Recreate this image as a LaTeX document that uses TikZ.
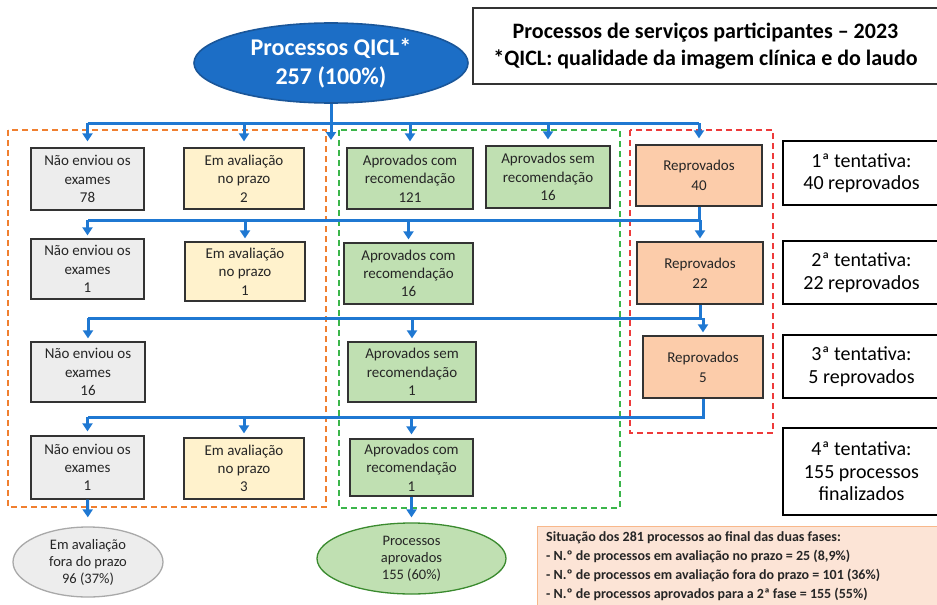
\documentclass[tikz,border=0pt]{standalone}
\usepackage{fontspec}
\setmainfont{Carlito}
\usetikzlibrary{arrows.meta,shapes.geometric}

\definecolor{flowblue}{HTML}{1F78D2}
\definecolor{topfill}{HTML}{1C6EC6}
\definecolor{topline}{HTML}{1A5699}
\definecolor{greyfill}{HTML}{EDEDED}
\definecolor{yelfill}{HTML}{FFF2CC}
\definecolor{grnfill}{HTML}{C0E0B2}
\definecolor{orgfill}{HTML}{FCCCAA}
\definecolor{boxline}{HTML}{333333}
\definecolor{dashorange}{HTML}{F07F2F}
\definecolor{dashgreen}{HTML}{3BB54A}
\definecolor{dashred}{HTML}{EE3B3B}
\definecolor{notefill}{HTML}{FCE4D6}
\definecolor{noteline}{HTML}{F8B88B}
\definecolor{foraline}{HTML}{A9A9A9}
\definecolor{aprovline}{HTML}{3A8A2E}
\definecolor{txt}{HTML}{262626}

\tikzset{
	box/.style={draw=boxline,line width=1.2pt,inner sep=0pt,align=center,text=txt,
		minimum height=61pt,font=\fontsize{15}{18.3}\selectfont},
	naobox/.style={box,fill=greyfill,minimum width=113pt},
	avalbox/.style={box,fill=yelfill,minimum width=120pt},
	aprbox/.style={box,fill=grnfill,minimum width=126pt},
	repbox/.style={box,fill=orgfill,minimum width=126pt,font=\fontsize{15}{20}\selectfont},
	tentbox/.style={draw=black,line width=1.6pt,inner sep=0pt,align=center,
		minimum width=157pt,minimum height=64pt,font=\fontsize{20}{22.5}\selectfont},
	group/.style={line width=1.3pt,dash pattern=on 6pt off 4pt},
	flow/.style={draw=flowblue,line width=3pt},
	arr/.style={flow,-{Triangle[length=8pt,width=10pt]},shorten >=4pt}
}

\begin{document}
\begin{tikzpicture}[x=1pt,y=-1pt]
	\useasboundingbox (0,0) rectangle (937,605);
	% dashed groups
	\draw[group,dashorange] (8,130) rectangle (326,507);
	\draw[group,dashgreen] (339,130) rectangle (620,508);
	\draw[group,dashred] (630,130) rectangle (773,433);
	% title
	\node[draw=boxline,line width=1.2pt,minimum width=465pt,minimum height=76pt,align=center,
		font=\bfseries\fontsize{22}{27}\selectfont] (title) at (705.5,46)
		{Processos de serviços participantes – 2023\\*QICL: qualidade da imagem clínica e do laudo};
	\node[ellipse,draw=topline,line width=1.6pt,fill=topfill,text=white,inner sep=0pt,
		minimum width=274pt,minimum height=80pt,align=center,
		font=\bfseries\fontsize{24}{29.5}\selectfont] (top) at (331,63)
		{Processos QICL*\\257 (100\%)};
	% 1a tentativa
	\node[naobox,minimum height=62pt] (nao1) at (87.5,179) {Não enviou os\\exames\\78};
	\node[avalbox] (aval1) at (244,178.5) {Em avaliação\\no prazo\\2};
	\node[aprbox] (apc1) at (410,178.5) {Aprovados com\\recomendação\\121};
	\node[aprbox,minimum width=124pt,minimum height=62pt] (aps1) at (548,177) {Aprovados sem\\recomendação\\16};
	\node[repbox] (rep1) at (699,175.5) {Reprovados\\40};
	\node[tentbox] (tent1) at (861.5,173) {1ª tentativa:\\40 reprovados};
	% 2a tentativa
	\node[naobox,minimum height=60pt] (nao2) at (87.5,269) {Não enviou os\\exames\\1};
	\node[avalbox,minimum height=59pt] (aval2) at (245,271.5) {Em avaliação\\no prazo\\1};
	\node[aprbox,minimum width=129pt] (apc2) at (408.5,273.5) {Aprovados com\\recomendação\\16};
	\node[repbox,minimum height=62pt] (rep2) at (700,273) {Reprovados\\22};
	\node[tentbox,minimum height=63pt] (tent2) at (861.5,272.5) {2ª tentativa:\\22 reprovados};
	% 3a tentativa
	\node[naobox,minimum width=114pt,minimum height=60pt] (nao3) at (88,372) {Não enviou os\\exames\\16};
	\node[aprbox,minimum width=128pt,minimum height=60pt] (aps3) at (412,372) {Aprovados sem\\recomendação\\1};
	\node[repbox,minimum width=120pt,minimum height=62pt] (rep3) at (703,367) {Reprovados\\5};
	\node[tentbox,minimum height=63pt] (tent3) at (861.5,366.5) {3ª tentativa:\\5 reprovados};
	% 4a tentativa
	\node[naobox,minimum height=63pt] (nao4) at (87.5,467.5) {Não enviou os\\exames\\1};
	\node[avalbox] (aval4) at (244,468.5) {Em avaliação\\no prazo\\3};
	\node[aprbox,minimum width=123pt,minimum height=57pt] (apc4) at (411.5,467.5) {Aprovados com\\recomendação\\1};
	\node[tentbox,minimum height=87pt] (tent4) at (861.5,471.5) {4ª tentativa:\\155 processos\\finalizados};
	% results
	\node[ellipse,draw=foraline,line width=1.3pt,fill=greyfill,inner sep=0pt,text=txt,
		minimum width=150pt,minimum height=70pt,align=center,
		font=\fontsize{14.5}{17}\selectfont] (fora) at (88,562)
		{Em avaliação\\fora do prazo\\96 (37\%)};
	\node[ellipse,draw=aprovline,line width=1.3pt,fill=grnfill,inner sep=0pt,text=txt,
		minimum width=189pt,minimum height=71pt,align=center,
		font=\fontsize{14.5}{17}\selectfont] (aprov) at (411.5,558.5)
		{Processos\\aprovados\\155 (60\%)};
	\node[draw=noteline,line width=1.3pt,fill=notefill,anchor=north west,text=txt,
		minimum width=410pt,minimum height=90pt,inner sep=0pt] (note) at (537,526) {};
	\node[anchor=north west,align=left,text=txt,inner sep=0pt,
		font=\bfseries\fontsize{14}{19.2}\selectfont] (notetext) at (546,531)
		{Situação dos 281 processos ao final das duas fases:\\
		- N.º de processos em avaliação no prazo = 25 (8,9\%)\\
		- N.º de processos em avaliação fora do prazo = 101 (36\%)\\
		- N.º de processos aprovados para a 2ª fase = 155 (55\%)};
	% connectors, first row
	\coordinate (b1) at (0,123);
	\coordinate (mid) at (331,140);
	\draw[flow] (nao1.north |- b1) -- (rep1.north |- b1);
	\draw[arr,shorten >=0pt] (top.south) -- (mid);
	\foreach \n in {nao1,aval1,apc1,aps1,rep1}
		\draw[arr,shorten >=6pt] (\n.north |- b1) -- (\n.north);
	% second row
	\coordinate (b2) at (0,220);
	\draw[flow] (rep1.south) |- (nao2.north |- b2);
	\foreach \n in {nao2,aval2,apc2,rep2}
		\draw[arr,shorten >=3pt] (\n.north |- b2) -- (\n.north);
	% third row
	\coordinate (b3) at (0,318);
	\draw[flow] (rep2.south) |- (nao3.north |- b3);
	\foreach \n in {nao3,aps3,rep3}
		\draw[arr,shorten >=3pt] (\n.north |- b3) -- (\n.north);
	% fourth row
	\coordinate (b4) at (0,417);
	\draw[flow] (rep3.south) |- (nao4.north |- b4);
	\foreach \n in {nao4,aval4,apc4}
		\draw[arr,shorten >=4pt] (\n.north |- b4) -- (\n.north);
	% to the results
	\draw[arr,shorten >=9pt] (nao4.south) -- (fora.north);
	\draw[arr,shorten >=5pt] (apc4.south) -- (aprov.north);
\end{tikzpicture}
\end{document}
